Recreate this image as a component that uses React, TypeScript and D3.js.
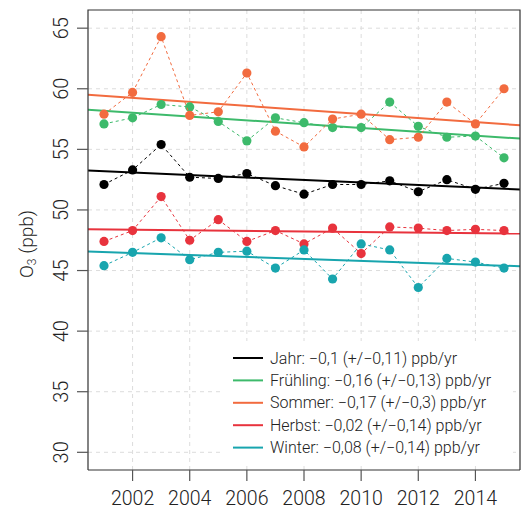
import React, { useEffect, useRef } from 'react';
import * as d3 from 'd3';

const years = [2001, 2002, 2003, 2004, 2005, 2006, 2007, 2008, 2009, 2010, 2011, 2012, 2013, 2014, 2015];

const jahr = [52.1, 53.3, 55.4, 52.7, 52.6, 53.0, 52.0, 51.3, 52.1, 52.1, 52.4, 51.5, 52.5, 51.7, 52.2];
const fruehling = [57.1, 57.6, 58.7, 58.5, 57.3, 55.7, 57.6, 57.2, 56.8, 56.8, 58.9, 56.9, 56.0, 56.1, 54.3];
const sommer = [57.9, 59.7, 64.3, 57.8, 58.1, 61.3, 56.5, 55.2, 57.5, 57.9, 55.8, 56.0, 58.9, 57.1, 60.0];
const herbst = [47.4, 48.3, 51.1, 47.5, 49.2, 47.4, 48.3, 47.2, 48.5, 46.4, 48.6, 48.5, 48.3, 48.4, 48.3];
const winter = [45.4, 46.5, 47.7, 45.9, 46.5, 46.6, 45.2, 46.7, 44.3, 47.2, 46.7, 43.6, 46.0, 45.7, 45.2];

// trend: slope (ppb/yr) and fitted value in 2008
const trendSlopes = [-0.104, -0.158, -0.167, -0.023, -0.08];
const trendMid = [52.47, 57.08, 58.25, 48.23, 45.96];

const seriesNames = ['Jahr', 'Frühling', 'Sommer', 'Herbst', 'Winter'];
const seriesColors = ['#000000', '#3dba6b', '#f26b3f', '#e8333d', '#18a5ae'];
const legendLabels = [
  'Jahr: \u22120,1 (+/\u22120,11) ppb/yr',
  'Frühling: \u22120,16 (+/\u22120,13) ppb/yr',
  'Sommer: \u22120,17 (+/\u22120,3) ppb/yr',
  'Herbst: \u22120,02 (+/\u22120,14) ppb/yr',
  'Winter: \u22120,08 (+/\u22120,14) ppb/yr',
];

const yTicks = [30, 35, 40, 45, 50, 55, 60, 65];
const xTicks = [2002, 2004, 2006, 2008, 2010, 2012, 2014];

const App = () => {
  const svgRef = useRef(null);

  useEffect(() => {
    const width = 523;
    const height = 510;
    const m = { top: 10, right: 3, bottom: 40, left: 88 };
    const font = "Roboto, 'DejaVu Sans', sans-serif";

    const svg = d3.select(svgRef.current);
    svg.selectAll('*').remove();
    svg.attr('width', width).attr('height', height);

    const x = d3.scaleLinear().domain([2000.44, 2015.56]).range([m.left, width - m.right]);
    const y = d3.scaleLinear().domain([28.54, 66.5]).range([height - m.bottom, m.top]);

    svg.append('defs').append('clipPath').attr('id', 'plotclip')
      .append('rect')
      .attr('x', m.left).attr('y', m.top)
      .attr('width', width - m.left - m.right)
      .attr('height', height - m.top - m.bottom);

    // grid
    const grid = svg.append('g');
    grid.selectAll('.gy').data(yTicks).enter().append('line')
      .attr('x1', m.left).attr('x2', width - m.right)
      .attr('y1', d => y(d)).attr('y2', d => y(d))
      .attr('stroke', '#dcdcdc').attr('stroke-width', 1).attr('stroke-dasharray', '4,4');
    grid.selectAll('.gx').data(xTicks).enter().append('line')
      .attr('y1', m.top).attr('y2', height - m.bottom)
      .attr('x1', d => x(d)).attr('x2', d => x(d))
      .attr('stroke', '#dcdcdc').attr('stroke-width', 1).attr('stroke-dasharray', '4,4');

    const allSeries = [jahr, fruehling, sommer, herbst, winter];
    const plot = svg.append('g').attr('clip-path', 'url(#plotclip)');

    // trend lines
    const xd = x.domain();
    allSeries.forEach((s, i) => {
      const f = yr => trendMid[i] + trendSlopes[i] * (yr - 2008);
      plot.append('line')
        .attr('x1', x(xd[0])).attr('x2', x(xd[1]))
        .attr('y1', y(f(xd[0]))).attr('y2', y(f(xd[1])))
        .attr('stroke', seriesColors[i]).attr('stroke-width', 2);
    });

    // dashed connections + points
    const line = d3.line().x((d, j) => x(years[j])).y(d => y(d));
    allSeries.forEach((s, i) => {
      plot.append('path')
        .datum(s)
        .attr('d', line)
        .attr('fill', 'none')
        .attr('stroke', seriesColors[i])
        .attr('stroke-width', 1)
        .attr('stroke-dasharray', '3,3');
      plot.selectAll('.pt' + i).data(s).enter().append('circle')
        .attr('cx', (d, j) => x(years[j]))
        .attr('cy', d => y(d))
        .attr('r', 4.6)
        .attr('fill', seriesColors[i]);
    });

    // legend
    const lg = svg.append('g');
    lg.append('rect')
      .attr('x', 222).attr('y', 341).attr('width', 291).attr('height', 124)
      .attr('fill', 'white');
    seriesNames.forEach((n, i) => {
      const ly = 358 + i * 22.4;
      lg.append('line')
        .attr('x1', 233).attr('x2', 263).attr('y1', ly).attr('y2', ly)
        .attr('stroke', seriesColors[i]).attr('stroke-width', 2);
      lg.append('text')
        .attr('x', 270).attr('y', ly).attr('dy', '0.35em')
        .attr('font-family', font).attr('font-weight', 300).attr('font-size', '16px')
        .attr('fill', '#222')
        .text(legendLabels[i]);
    });

    // box
    svg.append('path')
      .attr('d', `M${m.left},${height - m.bottom}V${m.top}H${width - m.right}V${height - m.bottom}`)
      .attr('fill', 'none').attr('stroke', '#333').attr('stroke-width', 1.2);
    svg.append('line')
      .attr('x1', m.left).attr('x2', width - m.right)
      .attr('y1', height - m.bottom).attr('y2', height - m.bottom)
      .attr('stroke', '#333').attr('stroke-width', 1.2);

    // y ticks
    svg.selectAll('.yt').data(yTicks).enter().append('line')
      .attr('x1', m.left - 11).attr('x2', m.left)
      .attr('y1', d => y(d)).attr('y2', d => y(d))
      .attr('stroke', '#555').attr('stroke-width', 1.2);
    svg.selectAll('.ytl').data(yTicks).enter().append('text')
      .attr('transform', d => `translate(68,${y(d)}) rotate(-90)`)
      .attr('text-anchor', 'middle')
      .attr('font-family', font).attr('font-weight', 300).attr('font-size', '20px')
      .attr('fill', '#222')
      .text(d => d);

    // x ticks
    svg.selectAll('.xt').data(xTicks).enter().append('line')
      .attr('x1', d => x(d)).attr('x2', d => x(d))
      .attr('y1', height - m.bottom).attr('y2', height - m.bottom + 11)
      .attr('stroke', '#555').attr('stroke-width', 1.2);
    svg.selectAll('.xtl').data(xTicks).enter().append('text')
      .attr('x', d => x(d)).attr('y', 505)
      .attr('text-anchor', 'middle')
      .attr('font-family', font).attr('font-weight', 300).attr('font-size', '19.5px')
      .attr('fill', '#222')
      .text(d => d);

    // y title
    const t = svg.append('text')
      .attr('transform', `translate(33,244) rotate(-90)`)
      .attr('text-anchor', 'middle')
      .attr('font-family', font).attr('font-weight', 300).attr('font-size', '19px')
      .attr('fill', '#222');
    t.append('tspan').text('O');
    t.append('tspan').attr('font-size', '12px').attr('dy', '3').text('3');
    t.append('tspan').attr('dy', '-3').text(' (ppb)');
  }, []);

  return (
    <svg ref={svgRef} style={{ position: 'absolute', left: 0, top: 0, background: 'white' }}></svg>
  );
};

export default App;
